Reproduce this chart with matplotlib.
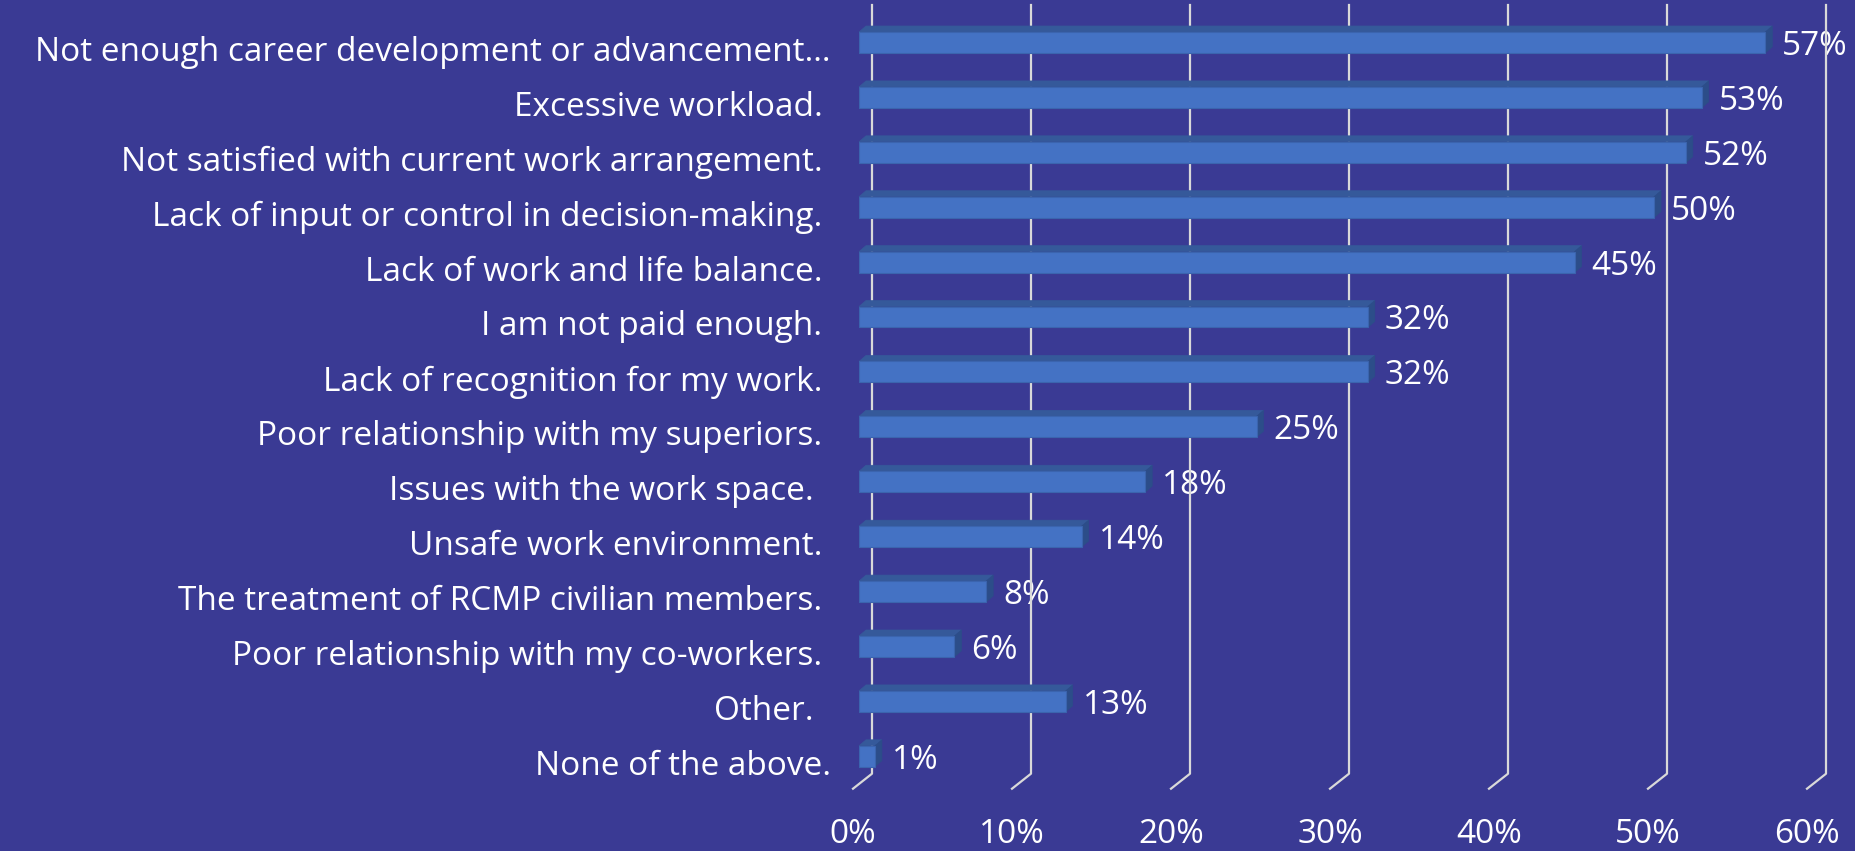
import matplotlib.pyplot as plt
from matplotlib.patches import Polygon
from matplotlib.lines import Line2D
from matplotlib import transforms

# Reasons for leaving, share of respondents (%)
reasons = [
    'Not enough career development or advancement\u2026',
    'Excessive workload. ',
    'Not satisfied with current work arrangement. ',
    'Lack of input or control in decision-making. ',
    'Lack of work and life balance. ',
    'I am not paid enough. ',
    'Lack of recognition for my work. ',
    'Poor relationship with my superiors. ',
    'Issues with the work space.  ',
    'Unsafe work environment. ',
    'The treatment of RCMP civilian members. ',
    'Poor relationship with my co-workers. ',
    'Other.  ',
    'None of the above.',
]
shares = [57, 53, 52, 50, 45, 32, 32, 25, 18, 14, 8, 6, 13, 1]
ticks = [0, 10, 20, 30, 40, 50, 60]
tick_labels = ['0%', '10%', '20%', '30%', '40%', '50%', '60%']

BG = '#3A3A94'
FRONT = '#4472C4'
TOP = '#35599A'
SIDE = '#2C4D89'
GRID = '#D9D9D9'
FONT = ['Open Sans', 'DejaVu Sans']
FS = 24

W, H, DPI = 1855, 851, 100
fig = plt.figure(figsize=(W / DPI, H / DPI), dpi=DPI, facecolor=BG)

# axes span: x=0 at px 859, x=60 at px 1813; rows 55 px apart
ax = fig.add_axes([859 / W, 1 - 783.7 / H, 954 / W, 768.7 / H])
ax.set_facecolor('none')
ax.set_xlim(0, 60)
ax.set_ylim(len(reasons) - 0.5, -0.5)
for s in ax.spines.values():
    s.set_visible(False)
ax.set_xticks([])
ax.set_yticks([])

# depth offsets in pixels (display coords, y up)
back_dx, back_dy = 13, 10      # back wall relative to bar front
floor_dx, floor_dy = -6, -5    # front edge of floor relative to bar front
bar_dx, bar_dy = 7, 6          # bar depth

fig.canvas.draw()
to_px = ax.transData.transform
px = transforms.IdentityTransform()
y_floor = len(reasons) - 0.5
y_top = -0.5

# back-wall gridlines with floor diagonals
for v in ticks:
    x0, yt = to_px((v, y_top))
    _, yb = to_px((v, y_floor))
    xs = [x0 + back_dx, x0 + back_dx, x0 + floor_dx]
    ys = [yt + back_dy, yb + back_dy, yb + floor_dy]
    ax.add_line(Line2D(xs, ys, transform=px, color=GRID, lw=1.6,
                       zorder=1, clip_on=False))

ypos = list(range(len(reasons)))
bar_h = 0.38
ax.barh(ypos, shares, height=bar_h, color=FRONT, edgecolor='#3B64AE',
        linewidth=0.8, zorder=3)

# top and side faces of each bar
for y, v in zip(ypos, shares):
    xl, yt = to_px((0, y - bar_h / 2))
    xr, yb = to_px((v, y + bar_h / 2))
    top = [(xl, yt), (xr, yt), (xr + bar_dx, yt + bar_dy), (xl + bar_dx, yt + bar_dy)]
    side = [(xr, yt), (xr + bar_dx, yt + bar_dy), (xr + bar_dx, yb + bar_dy), (xr, yb)]
    for pts, c in ((top, TOP), (side, SIDE)):
        ax.add_patch(Polygon(pts, closed=True, transform=px, facecolor=c,
                             edgecolor=c, lw=0.5, zorder=2.5, clip_on=False))

# value labels (sit behind the gridlines)
val_tr = transforms.offset_copy(ax.transData, fig=fig, x=17, y=-4, units='dots')
for y, v in zip(ypos, shares):
    ax.text(v, y, f'{v}%', transform=val_tr, ha='left', va='center',
            color='white', fontsize=FS, family=FONT, zorder=0.5)

# category labels
cat_tr = transforms.offset_copy(ax.transData, fig=fig, x=-28, y=-10, units='dots')
for y, lab in zip(ypos, reasons):
    ax.text(0, y, lab, transform=cat_tr, ha='right', va='center',
            color='white', fontsize=FS, family=FONT)

# x tick labels under the front edge of the floor
tick_tr = transforms.offset_copy(ax.transData, fig=fig, x=floor_dx, y=-51, units='dots')
for v, lab in zip(ticks, tick_labels):
    ax.text(v, y_floor, lab, transform=tick_tr, ha='center', va='center',
            color='white', fontsize=FS, family=FONT, clip_on=False)

fig.savefig('out.png', dpi=DPI, facecolor=BG)
